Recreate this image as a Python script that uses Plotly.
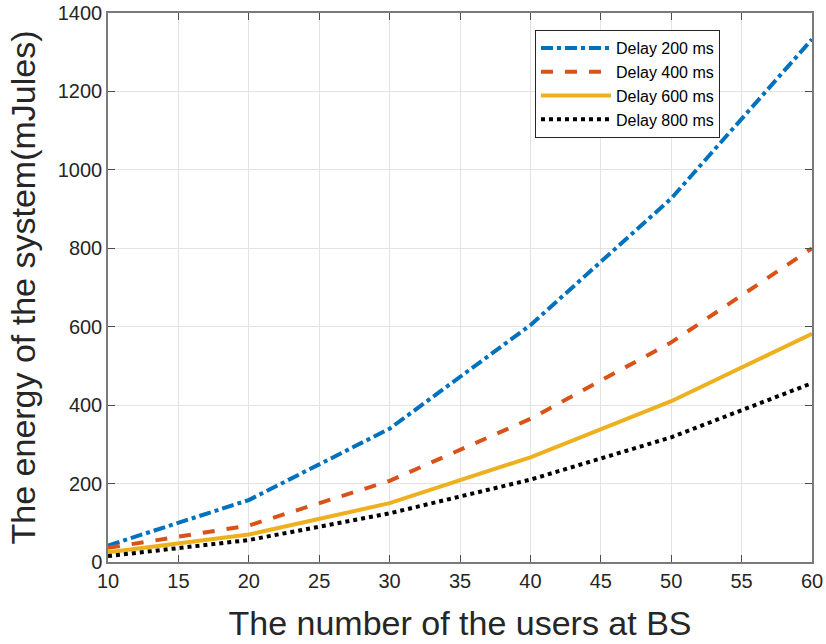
import plotly.graph_objects as go

# Number of users at the base station
users = [10, 20, 30, 40, 50, 60]

# System energy (mJules) for each delay constraint
energy_200ms = [42, 158, 340, 604, 927, 1333]
energy_400ms = [36, 93, 207, 365, 560, 800]
energy_600ms = [25, 70, 150, 267, 410, 582]
energy_800ms = [15, 56, 124, 210, 318, 456]

series = [
    ("Delay 200 ms", energy_200ms, "#0072BD", "dashdot"),
    ("Delay 400 ms", energy_400ms, "#D95319", "dash"),
    ("Delay 600 ms", energy_600ms, "#EDB120", "solid"),
    ("Delay 800 ms", energy_800ms, "#000000", "dot"),
]

fig = go.Figure()
for name, vals, color, dash in series:
    fig.add_trace(go.Scatter(
        x=users, y=vals, name=name, mode="lines",
        line=dict(color=color, width=4, dash=dash),
    ))

FONT = "Liberation Sans, Arial"

axis_common = dict(
    showgrid=True, gridcolor="#e3e3e3", gridwidth=1,
    showline=True, linecolor="#7a7a7a", linewidth=1.5, mirror="ticks",
    ticks="inside", ticklen=7, tickcolor="#4d4d4d",
    tickfont=dict(family=FONT, size=20, color="#262626"),
    zeroline=False, automargin=False,
)

fig.update_layout(
    width=826, height=644,
    margin=dict(l=108, r=14, t=13, b=82),
    paper_bgcolor="white", plot_bgcolor="white",
    xaxis=dict(
        range=[10, 60], dtick=5, tick0=10,
        title=dict(text="The number of the users at BS",
                   font=dict(family=FONT, size=34, color="#262626"),
                   standoff=20),
        **axis_common,
    ),
    yaxis=dict(
        range=[0, 1400], dtick=200,
        title=dict(text="The energy of the system(mJules)",
                   font=dict(family=FONT, size=34, color="#262626"),
                   standoff=12),
        **axis_common,
    ),
    legend=dict(
        x=0.6065, y=0.969, xanchor="left", yanchor="top",
        bgcolor="white", bordercolor="#262626", borderwidth=1,
        font=dict(family=FONT, size=16, color="#000000"),
        tracegroupgap=0, itemwidth=70,
    ),
    showlegend=True,
)

fig.write_html("out.html")
